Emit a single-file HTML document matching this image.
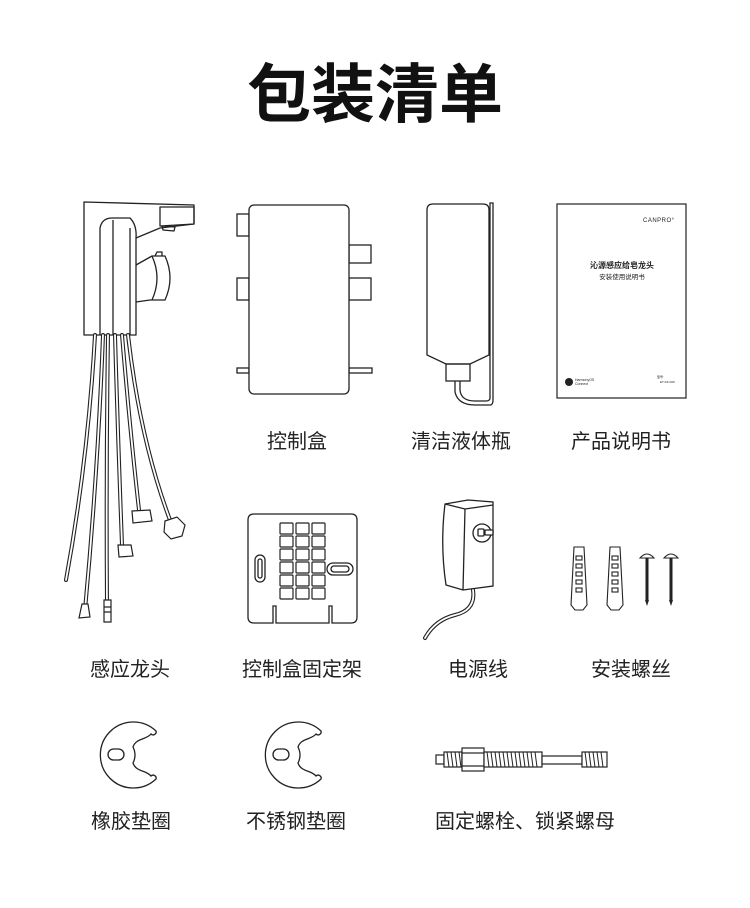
<!DOCTYPE html>
<html><head><meta charset="utf-8"><style>
html,body{margin:0;padding:0;background:#fff}
svg{display:block}
text{font-family:"Liberation Sans","Noto Sans CJK SC",sans-serif;fill:#222}
</style></head><body>
<svg width="750" height="908" viewBox="0 0 750 908" xmlns="http://www.w3.org/2000/svg">
<text x="375" y="117" font-size="64" font-weight="bold" text-anchor="middle" style="fill:#111">包装清单</text>

<g fill="none" stroke="#222" stroke-width="1.3" stroke-linejoin="round">
<!-- Faucet -->
<path d="M84 202 L84 335 L136 335 L136 238 L160 228 L194 224 L194 205 Z" fill="#fff"/>
<path d="M160 207 L194 207 L194 224 L160 226 Z"/>
<path d="M162 226 L175 227 L174 231 L163 230 Z"/>
<path d="M100 335 L100 228 Q102 218 112 218 L130 218 Q137 225 136 238"/>
<path d="M113 335 L113 220"/>
<path d="M130 335 L130 228"/>
<path d="M136 265 L152 256 L165 256 Q175 278 165 300 L150 300 L136 302"/>
<path d="M152 256 Q162 278 152 300"/>
<path d="M155 256 L157 252 L162 252 L162 256"/>
</g>
<g fill="none" stroke-linecap="round">
<g stroke="#222" stroke-width="4">
<path d="M95 335 Q88 460 66 580"/>
<path d="M103 335 Q98 470 85 610"/>
<path d="M108 335 Q106 470 107 605"/>
<path d="M115 335 Q118 440 122 545"/>
<path d="M122 335 Q130 430 139 510"/>
<path d="M128 335 Q140 440 170 520"/>
</g>
<g stroke="#fff" stroke-width="1.8">
<path d="M95 335 Q88 460 66 580"/>
<path d="M103 335 Q98 470 85 610"/>
<path d="M108 335 Q106 470 107 605"/>
<path d="M115 335 Q118 440 122 545"/>
<path d="M122 335 Q130 430 139 510"/>
<path d="M128 335 Q140 440 170 520"/>
</g>
</g>
<g fill="#fff" stroke="#222" stroke-width="1.2">
<path d="M118 545 L131 545 L133 556 L119 557 Z"/>
<path d="M132 511 L150 510 L152 521 L133 523 Z"/>
<path d="M165 521 L177 517 L185 525 L182 536 L171 539 L164 532 Z"/>
<path d="M82 604 L88 604 L90 617 L79 618 Z"/>
<path d="M104 600 L111 600 L111 622 L104 622 Z M104 607 L111 607 M104 612 L111 612"/>
</g>

<!-- Control box -->
<g fill="#fff" stroke="#222" stroke-width="1.3">
<rect x="237" y="214" width="12" height="22"/>
<rect x="237" y="278" width="12" height="22"/>
<rect x="349" y="245" width="22" height="18"/>
<rect x="349" y="278" width="22" height="22"/>
<rect x="237" y="368" width="12" height="5"/>
<rect x="349" y="368" width="23" height="5"/>
<rect x="249" y="205" width="100" height="189" rx="5"/>
</g>

<!-- Bottle -->
<g fill="none" stroke="#222" stroke-width="1.3">
<path d="M433 204 L483 204 Q489 204 489 210 L489 355 L470 364 L446 364 L427 355 L427 210 Q427 204 433 204 Z"/>
<rect x="446" y="364" width="24" height="17"/>
<path d="M455 381 L455 392 Q458 405 475 405 L490 405 Q493 405 493 400 L493 203 L490 203 L490 398 Q490 401 486 401 L475 401 Q461 401 460 390 L460 381"/>
</g>

<!-- Manual -->
<rect x="557" y="204" width="129" height="194" fill="#fff" stroke="#222" stroke-width="1.2"/>
<text x="643" y="222" font-size="6" letter-spacing="0.5">CANPRO°</text>
<text x="622" y="268" font-size="8" font-weight="bold" text-anchor="middle">沁源感应给皂龙头</text>
<text x="622" y="279" font-size="6.5" text-anchor="middle">安装使用说明书</text>
<circle cx="569" cy="382" r="4" fill="#222"/>
<text x="575" y="381" font-size="3.5">HarmonyOS</text>
<text x="575" y="385" font-size="3.5">Connect</text>
<text x="657" y="378" font-size="3">型号:</text>
<text x="660" y="383" font-size="3">ET-DF-009</text>

<!-- Bracket -->
<g fill="none" stroke="#222" stroke-width="1.3">
<path d="M254 514 L351 514 Q357 514 357 520 L357 617 Q357 623 351 623 L332 623 L332 606 L329 606 L329 623 L276 623 L276 606 L273 606 L273 623 L254 623 Q248 623 248 617 L248 520 Q248 514 254 514 Z"/>
<rect x="255" y="555" width="10" height="27" rx="5"/>
<rect x="258" y="559" width="4" height="19" rx="2"/>
<rect x="327" y="563" width="26" height="12" rx="6"/>
<rect x="331" y="566" width="18" height="6" rx="3"/>
</g>
<g fill="#fff" stroke="#222" stroke-width="1.2">
<g id="row">
<rect x="280" y="523" width="13" height="11" rx="1"/>
<rect x="296" y="523" width="13" height="11" rx="1"/>
<rect x="312" y="523" width="13" height="11" rx="1"/>
</g>
<use href="#row" y="13"/><use href="#row" y="26"/><use href="#row" y="39"/><use href="#row" y="52"/><use href="#row" y="65"/>
</g>

<!-- Adapter -->
<g fill="#fff" stroke="#222" stroke-width="1.3">
<path d="M445 504 L468 500 L493 502 L493 586 L463 590 L446 585 Q440 545 445 504 Z"/>
<path d="M445 504 L465 509 L493 505"/>
<path d="M465 509 L463 590"/>
<circle cx="482" cy="533" r="9"/>
<rect x="478" y="529" width="6" height="7" rx="1"/>
<rect x="485" y="530" width="8" height="5" rx="1"/>
</g>
<g fill="none" stroke-linecap="round">
<path d="M473 590 Q476 610 455 615 Q435 620 425 638" stroke="#222" stroke-width="4"/>
<path d="M473 590 Q476 610 455 615 Q435 620 425 638" stroke="#fff" stroke-width="1.8"/>
</g>

<!-- Screws -->
<g fill="#fff" stroke="#222" stroke-width="1.1">
<path d="M574 547 L584 547 L587 605 L583 610 L575 610 L571 605 Z"/>
<path d="M610 547 L620 547 L623 605 L619 610 L611 610 L607 605 Z"/>
<rect x="576" y="556" width="6" height="4"/><rect x="576" y="564" width="6" height="4"/><rect x="576" y="572" width="6" height="4"/><rect x="576" y="580" width="6" height="4"/><rect x="576" y="588" width="6" height="4"/>
<rect x="612" y="556" width="6" height="4"/><rect x="612" y="564" width="6" height="4"/><rect x="612" y="572" width="6" height="4"/><rect x="612" y="580" width="6" height="4"/><rect x="612" y="588" width="6" height="4"/>
<path d="M640 558 Q647 550 654 558 Z"/>
<path d="M664 558 Q671 550 678 558 Z"/>
</g>
<g stroke="#222" stroke-width="3">
<path d="M647 558 L647 600"/><path d="M671 558 L671 600"/>
</g>
<path d="M645 600 L647 606 L649 600 M669 600 L671 606 L673 600" fill="#222"/>

<!-- Washers -->
<g fill="#fff" stroke="#222" stroke-width="1.3">
<path id="w" d="M156 731 A33 33 0 1 0 156 779 A3 3 0 0 0 151 776 C146 770 136 772 133 763 Q137 755 133 747 C136 738 146 740 151 734 A3 3 0 0 0 156 731 Z"/>
<rect x="108" y="749" width="16" height="11" rx="5.5"/>
<use href="#w" x="165"/>
<rect x="273" y="749" width="16" height="11" rx="5.5"/>
</g>

<!-- Bolt -->
<g fill="#fff" stroke="#222" stroke-width="1.2">
<rect x="436" y="755" width="8" height="9"/>
<rect x="444" y="752" width="18" height="15"/>
<rect x="462" y="748" width="22" height="23"/>
<rect x="462" y="753" width="22" height="13"/>
<rect x="484" y="752" width="58" height="15"/>
<rect x="542" y="756" width="40" height="8"/>
<rect x="582" y="752" width="25" height="15"/>
</g>
<g stroke="#222" stroke-width="1">
<path d="M447 752 L449 767 M451 752 L453 767 M455 752 L457 767 M459 752 L461 767"/>
<path d="M487 752 L489 767 M491 752 L493 767 M495 752 L497 767 M499 752 L501 767 M503 752 L505 767 M507 752 L509 767 M511 752 L513 767 M515 752 L517 767 M519 752 L521 767 M523 752 L525 767 M527 752 L529 767 M531 752 L533 767 M535 752 L537 767"/>
<path d="M585 752 L587 767 M589 752 L591 767 M593 752 L595 767 M597 752 L599 767 M601 752 L603 767"/>
</g>

<!-- Labels -->
<g font-size="20" text-anchor="middle">
<text x="297" y="448">控制盒</text>
<text x="461" y="448">清洁液体瓶</text>
<text x="621" y="448">产品说明书</text>
<text x="130" y="676">感应龙头</text>
<text x="302" y="676">控制盒固定架</text>
<text x="478" y="676">电源线</text>
<text x="631" y="676">安装螺丝</text>
<text x="131" y="828">橡胶垫圈</text>
<text x="296" y="828">不锈钢垫圈</text>
<text x="525" y="828">固定螺栓、锁紧螺母</text>
</g>
</svg>
</body></html>
